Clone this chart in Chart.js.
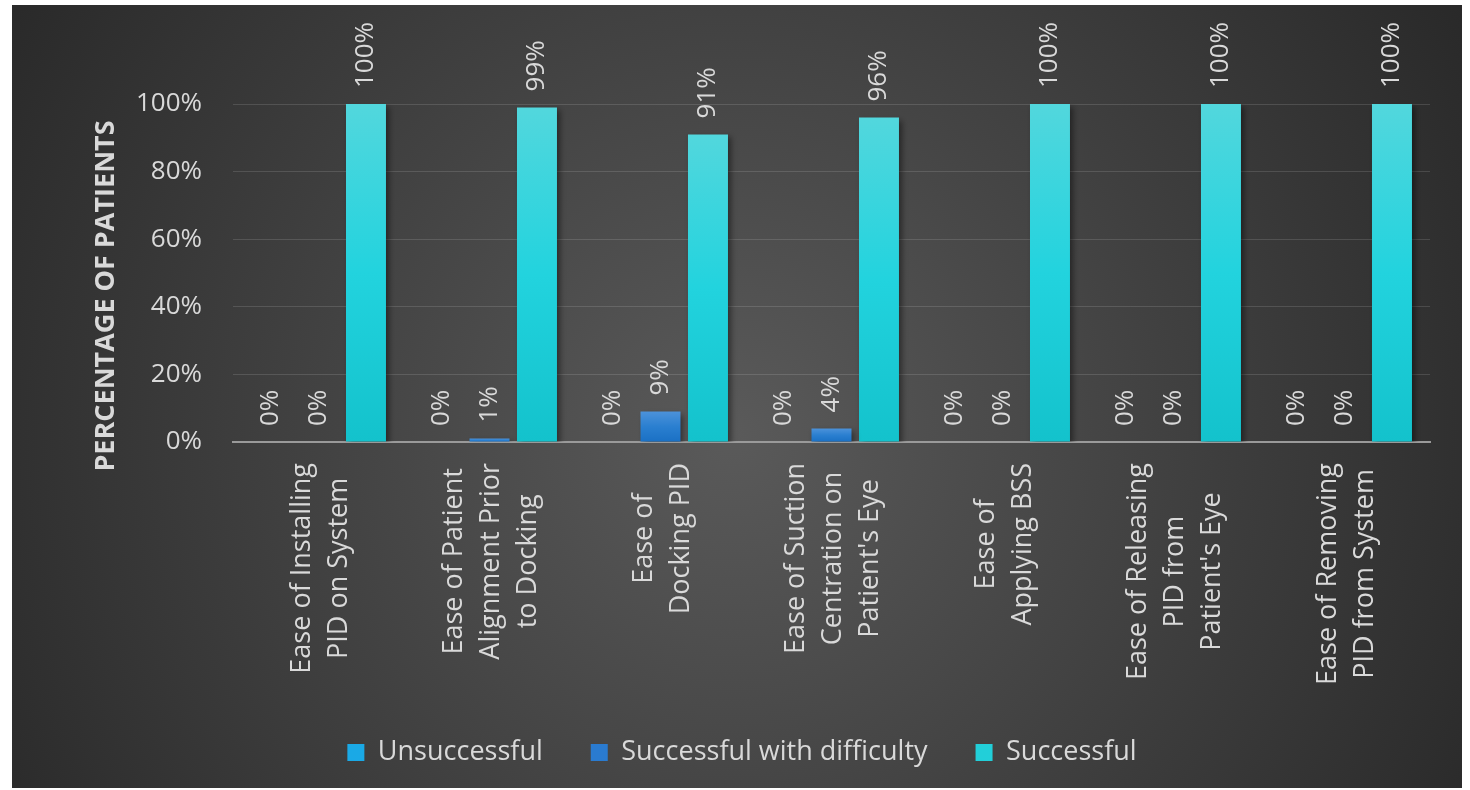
<!DOCTYPE html>
<html><head><meta charset="utf-8">
<script src="https://cdn.jsdelivr.net/npm/chart.js@4/dist/chart.umd.min.js"></script>
<style>
html,body{margin:0;padding:0;background:#fff;overflow:hidden;width:1470px;height:790px;}
#wrap{position:absolute;left:12px;top:5px;width:1450px;height:783px;}
</style></head><body>
<div id="wrap"><canvas id="c" width="1450" height="783"></canvas></div>
<script>
// ---- data ----
const categories = [
  ['Ease of Installing', 'PID on System'],
  ['Ease of Patient', 'Alignment Prior', 'to Docking'],
  ['Ease of', 'Docking PID'],
  ['Ease of Suction', 'Centration on', "Patient's Eye"],
  ['Ease of', 'Applying BSS'],
  ['Ease of Releasing', 'PID from', "Patient's Eye"],
  ['Ease of Removing', 'PID from System']
];
const seriesNames = ['Unsuccessful', 'Successful with difficulty', 'Successful'];
const unsuccessful = [0, 0, 0, 0, 0, 0, 0];
const withDifficulty = [0, 1, 9, 4, 0, 0, 0];
const successful = [100, 99, 91, 96, 100, 100, 100];
const yTicks = [0, 20, 40, 60, 80, 100];
const yTitle = 'PERCENTAGE OF PATIENTS';

// ---- styles ----
const TEXT = '#d9d9d9';
const FONT = "'Open Sans', 'Noto Sans', sans-serif";
const gradStops = [
  ['#40baee', '#14a8e8', '#0a9fdf'],
  ['#4c92da', '#2a7fd0', '#1a70c4'],
  ['#52d7dd', '#22d3de', '#13c2cc']
];
const legendColors = ['#1aa9e6', '#2a7bd0', '#22cfd9'];

function barGradient(stops) {
  return (ctx) => {
    const chart = ctx.chart;
    if (!chart.chartArea || ctx.type !== 'data') return stops[1];
    const y = chart.scales.y;
    const top = y.getPixelForValue(ctx.raw);
    const bottom = y.getPixelForValue(0);
    if (bottom - top < 1) return stops[1];
    const g = chart.ctx.createLinearGradient(0, top, 0, bottom);
    g.addColorStop(0, stops[0]);
    g.addColorStop(0.5, stops[1]);
    g.addColorStop(1, stops[2]);
    return g;
  };
}

Chart.defaults.font.family = FONT;

const bgPlugin = {
  id: 'bg',
  beforeDraw(chart) {
    const c = chart.ctx;
    c.save();
    const g = c.createRadialGradient(720, 430, 0, 720, 430, 900);
    g.addColorStop(0, '#5a5a5a');
    g.addColorStop(1, '#262626');
    c.fillStyle = g;
    c.fillRect(0, 0, chart.width, chart.height);
    c.restore();
  }
};

const shadowPlugin = {
  id: 'barShadow',
  beforeDatasetsDraw(chart) {
    const c = chart.ctx;
    c.save();
    c.shadowColor = 'rgba(0,0,0,0.45)';
    c.shadowBlur = 6;
    c.shadowOffsetX = 3;
    c.shadowOffsetY = 3;
  },
  afterDatasetsDraw(chart) {
    chart.ctx.restore();
  }
};

const valueLabelPlugin = {
  id: 'valueLabels',
  afterDatasetsDraw(chart) {
    const c = chart.ctx;
    c.save();
    c.fillStyle = TEXT;
    c.font = '26px ' + FONT;
    c.textAlign = 'left';
    c.textBaseline = 'middle';
    chart.data.datasets.forEach((ds, di) => {
      const meta = chart.getDatasetMeta(di);
      meta.data.forEach((el, i) => {
        c.save();
        c.translate(el.x, el.y - 16);
        c.rotate(-Math.PI / 2);
        c.fillText(ds.data[i] + '%', 0, 0);
        c.restore();
      });
    });
    c.restore();
  }
};

const xLabelPlugin = {
  id: 'xLabels',
  afterDraw(chart) {
    const c = chart.ctx;
    const xs = chart.scales.x;
    const axisY = chart.chartArea.bottom;
    c.save();
    c.fillStyle = TEXT;
    c.font = '27px ' + FONT;
    c.textAlign = 'center';
    c.textBaseline = 'middle';
    const pitch = 37;
    categories.forEach((lines, i) => {
      const cx = xs.getPixelForValue(i) + 2;
      const maxW = Math.max(...lines.map(l => c.measureText(l).width));
      const cy = axisY + 21 + maxW / 2;
      lines.forEach((l, j) => {
        c.save();
        c.translate(cx + (j - (lines.length - 1) / 2) * pitch, cy);
        c.rotate(-Math.PI / 2);
        c.fillText(l, 0, 0);
        c.restore();
      });
    });
    c.restore();
  }
};

const yTitlePlugin = {
  id: 'yTitle',
  afterDraw(chart) {
    const c = chart.ctx;
    c.save();
    c.fillStyle = TEXT;
    c.font = 'bold 27px ' + FONT;
    c.textAlign = 'center';
    c.textBaseline = 'middle';
    c.translate(94, 291);
    c.rotate(-Math.PI / 2);
    c.fillText(yTitle, 0, 0);
    c.restore();
  }
};

const seriesData = [unsuccessful, withDifficulty, successful];

new Chart(document.getElementById('c'), {
  type: 'bar',
  data: {
    labels: categories.map(l => l.join(' ')),
    datasets: seriesNames.map((name, i) => ({
      label: name,
      data: seriesData[i],
      backgroundColor: barGradient(gradStops[i]),
      borderWidth: 0,
      categoryPercentage: 0.833,
      barPercentage: 0.842
    }))
  },
  options: {
    responsive: false,
    animation: false,
    devicePixelRatio: 1,
    layout: { padding: { left: 42, right: 32, top: 99, bottom: 12 } },
    plugins: {
      tooltip: { enabled: false },
      legend: {
        position: 'bottom',
        labels: {
          color: TEXT,
          font: { size: 27, family: FONT },
          boxWidth: 17,
          boxHeight: 17,
          padding: 48,
          generateLabels(chart) {
            const items = Chart.defaults.plugins.legend.labels.generateLabels(chart);
            items.forEach((it, i) => {
              it.fillStyle = legendColors[i];
              it.strokeStyle = legendColors[i];
              it.lineWidth = 0;
              it.fontColor = TEXT;
            });
            return items;
          }
        }
      }
    },
    scales: {
      x: {
        grid: { display: false },
        border: { display: true, color: '#9a9a9a', width: 2 },
        ticks: { display: false },
        afterFit(scale) { scale.height = 249; }
      },
      y: {
        min: 0,
        max: 100,
        afterBuildTicks(scale) { scale.ticks = yTicks.map(v => ({ value: v })); },
        grid: { color: 'rgba(255,255,255,0.13)', lineWidth: 1, drawTicks: false },
        border: { display: false },
        ticks: {
          color: TEXT,
          font: { size: 26, family: FONT },
          padding: 31,
          callback: v => v + '%'
        },
        afterFit(scale) { scale.width = 179; }
      }
    }
  },
  plugins: [bgPlugin, shadowPlugin, valueLabelPlugin, xLabelPlugin, yTitlePlugin]
});
</script>
</body></html>
